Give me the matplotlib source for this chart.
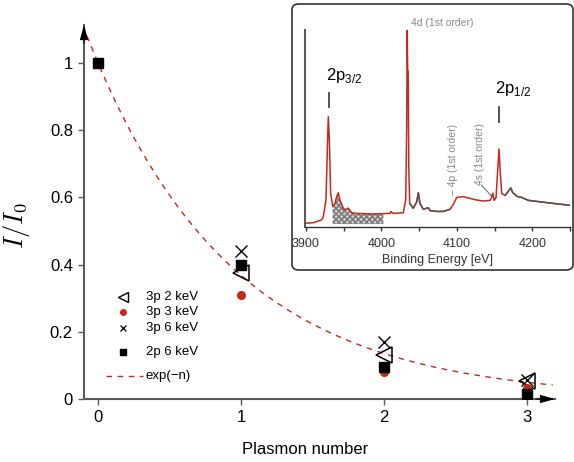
import numpy as np
import matplotlib
matplotlib.use("Agg")
import matplotlib.pyplot as plt
from matplotlib.patches import FancyBboxPatch

plt.rcParams["font.family"] = ["Liberation Sans", "DejaVu Sans"]

# Intensités relatives par numéro de plasmon
n_3p_2kev = [1, 2, 3]
i_3p_2kev = [0.376, 0.132, 0.054]
n_3p_3kev = [1, 2, 3]
i_3p_3kev = [0.31, 0.080, 0.033]
n_3p_6kev = [1, 2, 3]
i_3p_6kev = [0.44, 0.170, 0.057]
n_2p_6kev = [0, 1, 2, 3]
i_2p_6kev = [1.0, 0.40, 0.096, 0.016]

labels = ["3p 2 keV", "3p 3 keV", "3p 6 keV", "2p 6 keV", "exp(\u2212n)"]

# Spectre de l'encart (énergie de liaison, intensité normalisée)
energy = [3898.7, 3910, 3920.8, 3923, 3926.5, 3928.3, 3929.6, 3931, 3932.7,
          3935.4, 3938.5, 3940.7, 3942.9, 3945, 3949.5, 3953, 3956, 3960.6,
          3967, 3989, 4011.4, 4012.3, 4015.8, 4029, 4032.2, 4033.5, 4034.2,
          4034.8, 4035.5, 4036.3, 4037.5, 4042.3, 4046.8, 4049, 4051, 4055.6,
          4062, 4064.5, 4073, 4082, 4091, 4095.4, 4099.8, 4108.6, 4117.5,
          4126, 4135, 4144, 4146, 4147.6, 4149.5, 4152, 4154, 4156, 4157.5,
          4159.5, 4164, 4168, 4171.5, 4174, 4180, 4186, 4195, 4210, 4232, 4250]
intensity = [0.019, 0.022, 0.036, 0.053, 0.137, 0.391, 0.560, 0.442, 0.171,
             0.104, 0.120, 0.154, 0.174, 0.137, 0.095, 0.088, 0.096, 0.073,
             0.069, 0.066, 0.069, 0.078, 0.069, 0.072, 0.137, 0.50, 1.0,
             0.80, 0.79, 0.30, 0.12, 0.095, 0.128, 0.174, 0.120, 0.090,
             0.098, 0.083, 0.079, 0.079, 0.090, 0.115, 0.150, 0.154, 0.145,
             0.137, 0.132, 0.135, 0.150, 0.172, 0.135, 0.150, 0.28, 0.396, 0.28,
             0.170, 0.160, 0.180, 0.198, 0.175, 0.155, 0.150, 0.135, 0.128, 0.118, 0.110]
grey_ranges = [(4036.5, 4091), (4160, 4250)]
hatch_range = (3935.4, 4002.5)

RED = "#c42a1c"
AXGREY = "#5a5a5a"

fig = plt.figure(figsize=(5.74, 4.62), dpi=100)
ax = fig.add_axes([84 / 574, 1 - 399 / 462, 471 / 574, 374 / 462])

# Courbe exp(-n)
n = np.linspace(-0.077, 3.18, 200)
ax.plot(n, np.exp(-n), ls=(0, (4, 4)), color=RED, lw=1.0, zorder=2)

# Points de mesure
ax.plot(n_3p_2kev, i_3p_2kev, "<", ms=12, mfc="none", mec="k", mew=1.1, zorder=3)
ax.plot(n_3p_3kev, i_3p_3kev, "o", ms=5.5, color=RED, zorder=3)
ax.plot(n_2p_6kev, i_2p_6kev, "s", ms=7, color="k", zorder=4)
ax.plot(n_3p_6kev, i_3p_6kev, "x", ms=8, mec="k", mew=1.0, zorder=4)

ax.set_xlim(-0.098, 3.196)
ax.set_ylim(0, 1.113)
ax.set_xticks([0, 1, 2, 3])
ax.set_yticks([0, 0.2, 0.4, 0.6, 0.8, 1])
ax.set_yticklabels(["0", "0.2", "0.4", "0.6", "0.8", "1"])
ax.tick_params(labelsize=12, length=4, width=1, color=AXGREY, pad=4)
for side in ["top", "right"]:
    ax.spines[side].set_visible(False)
for side in ["left", "bottom"]:
    ax.spines[side].set_color(AXGREY)
    ax.spines[side].set_linewidth(1.5)
ax.set_xlabel("Plasmon number", fontsize=12)
ax.xaxis.set_label_coords(0.47, -0.115)
ax.set_ylabel("$I/I_0$", fontsize=19, math_fontfamily="cm")
ax.yaxis.set_label_coords(-0.11, 0.465)

# Flèches au bout des axes
ax.annotate("", xy=(0, 1.0), xytext=(0, 0.95), xycoords="axes fraction",
            arrowprops=dict(arrowstyle="-|>,head_length=0.9,head_width=0.25",
                            color="k", lw=0.8, shrinkA=0, shrinkB=0))
ax.annotate("", xy=(1.0, 0), xytext=(0.96, 0), xycoords="axes fraction",
            arrowprops=dict(arrowstyle="-|>,head_length=0.9,head_width=0.25",
                            color="k", lw=0.8, shrinkA=0, shrinkB=0))

# Légende manuelle
leg_y = [0.2727, 0.2326, 0.1898, 0.1257, 0.0615]
leg_style = [dict(marker="<", ms=7, mfc="none", mec="k", mew=1.0),
             dict(marker="o", ms=4, color=RED),
             dict(marker="x", ms=5, mec="k", mew=0.9),
             dict(marker="s", ms=5, color="k")]
for y, lab, st in zip(leg_y[:4], labels[:4], leg_style):
    ax.plot([0.0828], [y], transform=ax.transAxes, ls="none", clip_on=False, **st)
    ax.text(0.1316, y, lab, transform=ax.transAxes, fontsize=9.5, va="center")
ax.plot([0.0467, 0.1253], [leg_y[4]] * 2, transform=ax.transAxes,
        ls=(0, (4, 4)), color=RED, lw=1.0)
ax.text(0.1316, leg_y[4], labels[4], transform=ax.transAxes, fontsize=9.5, va="center")

# Cadre de l'encart
box = FancyBboxPatch((292 / 574, 192 / 462), 281 / 574, 266 / 462,
                     boxstyle="round,pad=0,rounding_size=0.012",
                     transform=fig.transFigure, facecolor="white",
                     edgecolor="#333333", lw=1.2, zorder=5)
fig.add_artist(box)

ins = fig.add_axes([305 / 574, 1 - 227 / 462, 265 / 574, 197 / 462], zorder=6)
ins.patch.set_alpha(0)
E = np.array(energy)
I = np.array(intensity)
ins.plot(E, I, color=RED, lw=1.1, zorder=3)
for lo, hi in grey_ranges:
    m = (E >= lo) & (E <= hi)
    ins.plot(E[m], I[m], color="#555555", lw=1.1, zorder=4)
eh = np.linspace(hatch_range[0], hatch_range[1], 100)
ins.fill_between(eh, 0.015, np.interp(eh, E, I), facecolor="#d0d0d0",
                 edgecolor="#777777", hatch="xxxxxx", lw=0, zorder=2)

ins.set_xlim(3898.7, 4250)
ins.set_ylim(0, 1.0)
ins.set_xticks([3900, 4000, 4100, 4200])
ins.set_xticks([3950, 4050, 4150, 4250], minor=True)
ins.set_yticks([])
ins.tick_params(axis="x", which="both", length=3, width=1, color="#333333",
                labelsize=9, labelcolor="#333333", pad=5)
for side in ["top", "right"]:
    ins.spines[side].set_visible(False)
ins.spines["left"].set_color(AXGREY)
ins.spines["left"].set_linewidth(1.5)
ins.spines["bottom"].set_color("#333333")
ins.spines["bottom"].set_linewidth(1.0)
ins.set_xlabel("Binding Energy [eV]", fontsize=9, color="#333333", labelpad=3)

# Annotations de l'encart
ins.text(4081, 1.035, "4d (1st order)", fontsize=7.5, color="#888888",
         ha="center", va="center", clip_on=False)
ins.text(3926, 0.72, "2p$_\\mathregular{3/2}$", fontsize=12, ha="left", va="bottom")
ins.plot([3930.5, 3930.5], [0.61, 0.68], color="#333333", lw=1.2)
ins.text(4150, 0.655, "2p$_\\mathregular{1/2}$", fontsize=12, ha="left", va="bottom")
ins.plot([4156.5, 4156.5], [0.533, 0.61], color="#333333", lw=1.2)
ins.text(4094.6, 0.16, "\u2013 4p (1st order)", fontsize=7.5, color="#888888",
         rotation=90, ha="center", va="bottom")
ins.text(4130.5, 0.215, "4s (1st order)", fontsize=7.5, color="#888888",
         rotation=90, ha="center", va="bottom")
ins.plot([4132.5, 4146], [0.213, 0.157], color="#777777", lw=0.8)

fig.savefig("out.png", dpi=100)
